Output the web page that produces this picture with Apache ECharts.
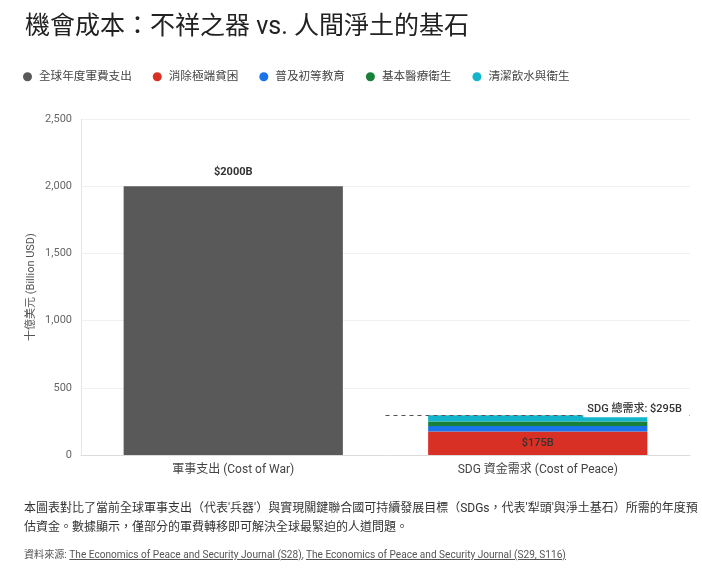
<!DOCTYPE html>
<html>
<head>
<meta charset="utf-8">
<script src="https://cdn.jsdelivr.net/npm/echarts@6/dist/echarts.min.js"></script>
<style>
    body { margin: 0; background: #fff; font-family: Roboto, "Noto Sans CJK TC", sans-serif; }
    #wrap { position: relative; width: 702px; height: 582px; }
    #main { position: absolute; left: 0; top: 0; width: 702px; height: 582px; }
    #note { position: absolute; left: 24px; top: 499px; width: 674px; font-size: 12px; line-height: 19px; color: #333; }
    #src { position: absolute; left: 24px; top: 546px; font-size: 10.1px; color: #555; }
    #src a { color: #555; text-decoration: underline; }
</style>
</head>
<body>
<div id="wrap">
    <div id="main"></div>
    <div id="note">本圖表對比了當前全球軍事支出（代表'兵器'）與實現關鍵聯合國可持續發展目標（SDGs，代表'犁頭'與淨土基石）所需的年度預估資金。數據顯示，僅部分的軍費轉移即可解決全球最緊迫的人道問題。</div>
    <div id="src">資料來源: <a>The Economics of Peace and Security Journal (S28)</a>, <a>The Economics of Peace and Security Journal (S29, S116)</a></div>
</div>
<script>
// 類別與數值 (十億美元)
const categories = ['軍事支出 (Cost of War)', 'SDG 資金需求 (Cost of Peace)'];
const seriesNames = ['全球年度軍費支出', '消除極端貧困', '普及初等教育', '基本醫療衛生', '清潔飲水與衛生'];
const military = [2000, '-'];
const poverty = ['-', 175];
const education = ['-', 40];
const health = ['-', 34];
const water = ['-', 46];
const sdgTotal = 295;
const colors = ['#595959', '#d93025', '#1a73e8', '#188038', '#12b5cb'];

var myChart = echarts.init(document.getElementById('main'));

function stackBar(name, data, color, label) {
    return {
        name: name,
        type: 'bar',
        stack: 'sdg',
        data: data,
        barWidth: '72%',
        itemStyle: { color: color },
        label: label || { show: false }
    };
}

var option = {
    textStyle: { fontFamily: 'Roboto, "Noto Sans CJK TC", sans-serif' },
    title: {
        text: '機會成本：不祥之器 vs. 人間淨土的基石',
        left: 20,
        top: 10,
        textStyle: { fontSize: 25, fontWeight: 'normal', color: '#222' }
    },
    legend: {
        data: seriesNames,
        left: 18,
        top: 66,
        icon: 'circle',
        itemWidth: 9,
        itemHeight: 9,
        itemGap: 21,
        textStyle: { fontSize: 11.6, color: '#444', padding: [0, 0, 0, 2] }
    },
    grid: { left: 81, right: 12, top: 119, bottom: 127 },
    xAxis: [
        {
            type: 'category',
            data: categories,
            axisLine: { lineStyle: { color: '#dcdcdc' } },
            axisTick: { show: false },
            axisLabel: { fontSize: 12, color: '#444', margin: 9 }
        },
        {
            // 用於參考線的隱藏數值軸
            type: 'value',
            min: 0,
            max: 2,
            show: false
        }
    ],
    yAxis: {
        type: 'value',
        min: 0,
        max: 2500,
        interval: 500,
        name: '十億美元 (Billion USD)',
        nameLocation: 'middle',
        nameGap: 44,
        nameMoveOverlap: false,
        nameTextStyle: { fontSize: 11, color: '#555' },
        axisLine: { show: true, lineStyle: { color: '#e6e6e6' } },
        axisTick: { show: false },
        axisLabel: {
            fontSize: 11,
            color: '#666',
            margin: 9,
            formatter: function (v) { return v.toLocaleString('en-US'); }
        },
        splitLine: { lineStyle: { color: '#f0f0f0' } }
    },
    series: [
        {
            name: seriesNames[0],
            type: 'bar',
            stack: 'sdg',
            data: military,
            barWidth: '72%',
            itemStyle: { color: colors[0] },
            label: {
                show: true,
                position: 'top',
                distance: 8,
                formatter: '${c}B',
                fontSize: 11,
                fontWeight: 'bold',
                color: '#333'
            }
        },
        stackBar(seriesNames[1], poverty, colors[1], {
            show: true,
            position: 'inside',
            formatter: '${c}B',
            fontSize: 11,
            fontWeight: 500,
            color: '#333'
        }),
        stackBar(seriesNames[2], education, colors[2]),
        stackBar(seriesNames[3], health, colors[3]),
        stackBar(seriesNames[4], water, colors[4]),
        {
            name: 'SDG 總需求',
            type: 'line',
            xAxisIndex: 1,
            data: [],
            z: 5,
            markLine: {
                silent: true,
                symbol: 'none',
                lineStyle: { type: [4, 4], color: '#555', width: 1 },
                label: {
                    show: true,
                    position: 'insideEndTop',
                    formatter: 'SDG 總需求: $' + sdgTotal + 'B',
                    fontSize: 11,
                    fontWeight: 500,
                    color: '#333',
                    backgroundColor: '#fff',
                    padding: [4, 4, 3, 4],
                    distance: [4, -2]
                },
                data: [[{ coord: [1, sdgTotal] }, { coord: [2, sdgTotal] }]]
            }
        }
    ]
};

myChart.setOption(option);
</script>
</body>
</html>
